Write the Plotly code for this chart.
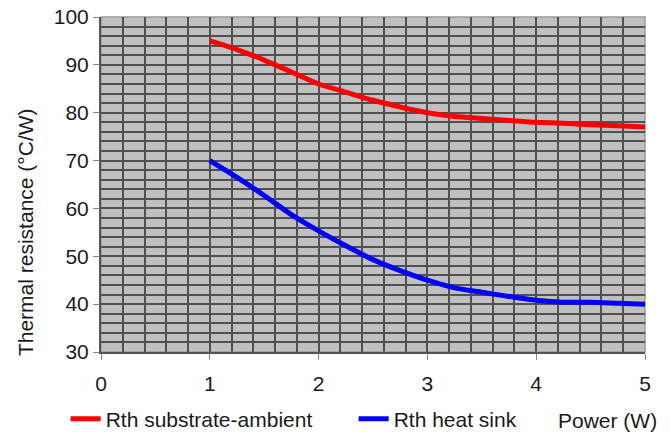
import plotly.graph_objects as go

power = [1, 1.25, 1.5, 1.75, 2, 2.25, 2.5, 2.75, 3, 3.25, 3.5, 3.75, 4, 4.25, 4.5, 4.75, 5]
rth_substrate_ambient = [95, 93.2, 91, 88.5, 86, 84.3, 82.6, 81.2, 80, 79.2, 78.8, 78.4, 78, 77.8, 77.5, 77.3, 77]
rth_heat_sink = [70, 66.5, 62.7, 58.7, 55.3, 52.2, 49.3, 47, 45, 43.4, 42.5, 41.6, 40.8, 40.4, 40.4, 40.2, 40]

font = "Liberation Sans, Arial, sans-serif"

fig = go.Figure()
fig.add_trace(go.Scatter(x=power, y=rth_substrate_ambient, mode="lines", name="Rth substrate-ambient",
                         line=dict(color="#ff0000", width=5, shape="spline", smoothing=0.6)))
fig.add_trace(go.Scatter(x=power, y=rth_heat_sink, mode="lines", name="Rth heat sink",
                         line=dict(color="#0000ff", width=5, shape="spline", smoothing=0.6)))

fig.update_layout(
    width=670, height=432,
    margin=dict(l=101, r=25, t=17, b=80, autoexpand=False),
    paper_bgcolor="white", plot_bgcolor="#c0c0c0",
    font=dict(family=font, size=21, color="#1a1a1a"),
    showlegend=True,
    legend=dict(orientation="h", x=-0.065, xanchor="left", y=-0.2, yanchor="middle",
                font=dict(size=21), entrywidth=243, entrywidthmode="pixels",
                tracegroupgap=0, bgcolor="rgba(0,0,0,0)"),
    annotations=[
        dict(text="Power (W)", xref="paper", yref="paper", x=1.0257, y=-0.205,
             xanchor="right", yanchor="middle", showarrow=False, font=dict(size=21)),
        dict(text="Thermal resistance (°C/W)", xref="paper", yref="paper", x=-0.1397, y=0.358,
             xanchor="center", yanchor="middle", textangle=-90, showarrow=False, font=dict(size=21)),
    ],
)
fig.update_xaxes(range=[0, 5], dtick=1, tick0=0, showgrid=True, gridcolor="#505050", gridwidth=1.5,
                 minor=dict(dtick=0.2, showgrid=True, gridcolor="#505050", gridwidth=1.5),
                 ticks="outside", ticklen=6, tickcolor="#888888", showline=True, linecolor="#555555",
                 linewidth=2, zeroline=False, tickfont=dict(size=21), ticklabelstandoff=6,
                 ticklabeloverflow="allow")
fig.update_yaxes(range=[30, 100], dtick=10, tick0=30, showgrid=True, gridcolor="#505050", gridwidth=1.5,
                 minor=dict(dtick=2, showgrid=True, gridcolor="#505050", gridwidth=1.5),
                 ticks="outside", ticklen=6, tickcolor="#888888", showline=True, linecolor="#555555",
                 linewidth=2, zeroline=False, tickfont=dict(size=21), ticklabeloverflow="allow")
fig.add_shape(type="rect", xref="paper", yref="paper", x0=0, y0=0, x1=1, y1=1,
              line=dict(color="#999999", width=1.5), layer="below")

fig.write_html("out.html", config={"displayModeBar": False},
               post_script="document.body.style.margin='0';")
